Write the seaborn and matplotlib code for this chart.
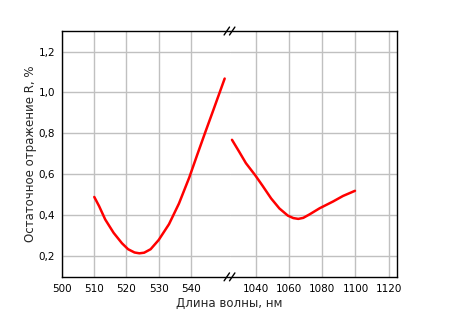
import matplotlib
matplotlib.use("Agg")
import matplotlib.pyplot as plt
from matplotlib.ticker import MultipleLocator, FuncFormatter
from matplotlib.lines import Line2D
import seaborn as sns
import pandas as pd

# residual reflection, visible range
left_wl = [510, 511.5, 513.4, 516, 518.6, 520.5, 522.5, 524, 525.5, 527.5, 530,
           533.2, 536.3, 539.5, 542, 544.5, 547, 550.5]
left_r = [0.49, 0.445, 0.38, 0.315, 0.264, 0.235, 0.219, 0.215, 0.218, 0.235,
          0.28, 0.357, 0.458, 0.585, 0.697, 0.807, 0.915, 1.068]

# residual reflection, IR range
right_wl = [1025.5, 1029.9, 1033.9, 1039.6, 1044, 1049.1, 1054.1, 1059.2,
            1062.5, 1065.5, 1068.5, 1072.3, 1078.4, 1086.5, 1092.5, 1099.7]
right_r = [0.769, 0.71, 0.655, 0.595, 0.544, 0.483, 0.434, 0.399, 0.387,
           0.383, 0.388, 0.405, 0.435, 0.468, 0.495, 0.52]

left_ticks = [500, 510, 520, 530, 540]
right_ticks = [1040, 1060, 1080, 1100, 1120]

sns.set_style("white")
plt.rcParams['font.family'] = ['DejaVu Sans']

fig = plt.figure(figsize=(4.5, 3.3), dpi=100)
x0, x1, y0, y1 = 0.138, 0.882, 0.161, 0.906
xm = 0.51
axL = fig.add_axes([x0, y0, xm - x0, y1 - y0])
axR = fig.add_axes([xm, y0, x1 - xm, y1 - y0])

dfL = pd.DataFrame({"wl": left_wl, "r": left_r})
dfR = pd.DataFrame({"wl": right_wl, "r": right_r})
for ax, df in ((axL, dfL), (axR, dfR)):
    sns.lineplot(data=df, x="wl", y="r", ax=ax, color="red", lw=1.8, sort=False,
                 estimator=None, solid_joinstyle="round", solid_capstyle="round")

comma = FuncFormatter(lambda v, p: f"{v:.1f}".replace(".", ","))

for ax in (axL, axR):
    ax.set_ylim(0.1, 1.3)
    ax.yaxis.set_major_locator(MultipleLocator(0.2))
    ax.yaxis.set_minor_locator(MultipleLocator(0.1))
    ax.grid(True, which="major", color="#c0c0c0", lw=1)
    ax.set_xlabel("")
    ax.set_ylabel("")
    ax.tick_params(which="both", direction="in", labelsize=7.5, colors="black", pad=5)
    ax.tick_params(which="major", length=4, width=1)
    ax.tick_params(which="minor", length=2, width=1)
    for s in ax.spines.values():
        s.set_color("black")
        s.set_linewidth(1)

axL.set_xlim(500, 552)
axL.set_xticks(left_ticks)
axL.xaxis.set_minor_locator(MultipleLocator(10, offset=5))
axL.yaxis.set_major_formatter(comma)
axL.spines["right"].set_visible(False)

axR.set_xlim(1024, 1125)
axR.set_xticks(right_ticks)
axR.xaxis.set_minor_locator(MultipleLocator(20, offset=10))
axR.spines["left"].set_visible(False)
axR.tick_params(axis="y", which="both", left=False, labelleft=False)

# break marks
for yy in (y0, y1):
    for dx in (-0.006, 0.006):
        fig.add_artist(Line2D([xm + dx - 0.006, xm + dx + 0.006], [yy - 0.012, yy + 0.012],
                              color="black", lw=1))

fig.text((x0 + x1) / 2, 0.1, "Длина волны, нм", ha="center", va="top", fontsize=8.5)
fig.text(0.068, (y0 + y1) / 2, "Остаточное отражение R, %", ha="center", va="center",
         rotation=90, fontsize=8.5)

fig.savefig("out.png", dpi=100)
